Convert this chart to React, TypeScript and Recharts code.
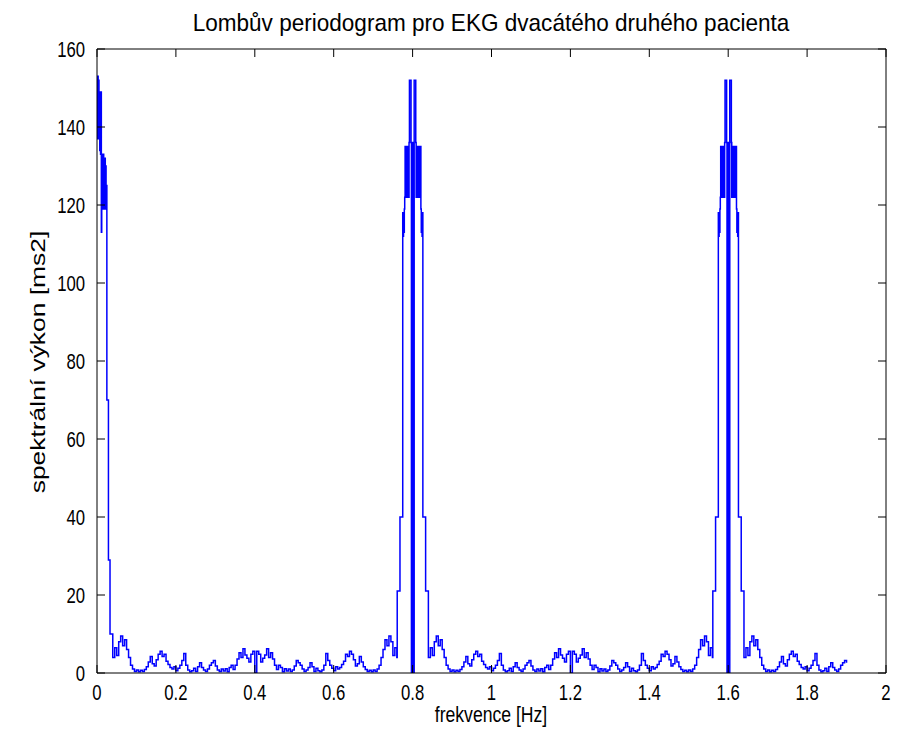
import React from 'react';
import { LineChart, Line, XAxis, YAxis } from 'recharts';

// ---- values ----
const xTicks = [0, 0.2, 0.4, 0.6, 0.8, 1, 1.2, 1.4, 1.6, 1.8, 2];
const yTicks = [0, 20, 40, 60, 80, 100, 120, 140, 160];

// frequency grid step of the low-level part of the periodogram [Hz]
const FREQ_STEP = 0.005;

// right half of the peak at 0 Hz: frequencies [Hz] and power [ms2]
const dcFreq = [0, 0.001, 0.002, 0.003, 0.004, 0.005, 0.006, 0.007, 0.008, 0.009, 0.01, 0.011, 0.012, 0.013, 0.014, 0.015, 0.016, 0.017, 0.018, 0.019, 0.02, 0.021, 0.022, 0.023, 0.024, 0.025, 0.029, 0.033];
const dcPower = [152, 137, 153, 138, 152, 137, 149, 134, 148, 133, 149, 113, 133, 119, 132, 120, 133, 119, 131, 120, 132, 119, 130, 119, 125, 70, 29, 10];

// peaks at 0.8 Hz and 1.6 Hz: frequency offset from the peak centre [Hz] and power
const peakCenters = [0.8, 1.6];
const peakOffset = [-0.039, -0.032, -0.025, -0.024, -0.023, -0.022, -0.021, -0.02, -0.019, -0.018, -0.017, -0.016, -0.015, -0.014, -0.013, -0.012, -0.011, -0.01, -0.009, -0.008, -0.004, -0.003, -0.002, -0.001, 0, 0.001, 0.002, 0.003, 0.004, 0.008, 0.009, 0.01, 0.011, 0.012, 0.013, 0.014, 0.015, 0.016, 0.017, 0.018, 0.019, 0.02, 0.021, 0.022, 0.023, 0.024, 0.025, 0.026, 0.033];
const peakPower = [21, 40, 118, 112, 118, 113, 119, 122, 135, 122, 134, 123, 135, 122, 135, 123, 134, 122, 136, 152, 136, 0, 135, 0, 136, 0, 135, 0, 152, 136, 122, 134, 123, 135, 122, 135, 123, 134, 122, 135, 122, 135, 119, 113, 118, 112, 118, 40, 21];

// low-level band between the peaks (0.04–0.76 Hz and 0.84–1.56 Hz)
const bandStarts = [0.04, 0.84];
const noiseBand = [
  4, 6.5, 4.5, 8, 9.5, 7, 8.5, 6, 4, 2,
  1, 0.4, 0.8, 0.3, 0.7, 0.4, 0.9, 1.6, 2.8, 4.2,
  2.4, 1.8, 3.4, 4.8, 5.6, 4.2, 4.8, 3, 2.2, 1.4,
  1, 1.6, 0.6, 1.2, 2, 3.2, 5, 2, 0.8, 0.3,
  0.6, 1.2, 0.4, 1.6, 2.6, 1.4, 0.8, 0.4, 1, 2,
  2.6, 3.2, 1.8, 0.8, 0.4, 1, 0.5, 1.1, 0.3, 1.4,
  2, 0.9, 2, 3.6, 5.2, 4, 6.2, 4.6, 3.8, 2.8,
  4.8, 5.6, 0,
  5.6, 4.8, 2.8, 3.8, 4.6, 6.2, 4, 5.2, 3.6, 2,
  0.9, 2, 1.4, 0.3, 1.1, 0.5, 1, 0.4, 0.8, 1.8,
  3.2, 2.6, 2, 1, 0.4, 0.8, 1.4, 2.6, 1.6, 0.4,
  1.2, 0.6, 0.3, 0.8, 2, 5, 3.2, 2, 1.2, 0.6,
  1.6, 1, 1.4, 2.2, 3, 4.8, 4.2, 5.6, 4.8, 3.4,
  1.8, 2.4, 4.2, 2.8, 1.6, 0.9, 0.4, 0.7, 0.3, 0.8,
  0.4, 1, 2, 4, 6, 8.5, 7, 9.5, 8, 4.5,
  6.5, 4,
];

// tail after the 1.6 Hz peak (1.64–1.90 Hz)
const tailStart = 1.64;
const noiseTail = [
  4, 6.5, 4.5, 8, 9.5, 7, 8.5, 6, 4, 2,
  1, 0.4, 0.8, 0.3, 0.7, 0.4, 0.9, 1.6, 2.8, 4.2,
  2.4, 1.8, 3.4, 4.8, 5.6, 4.2, 4.8, 3, 2.2, 1.4,
  1, 1.6, 0.6, 1.2, 2, 3.2, 5, 2, 0.8, 0.3,
  0.6, 1.2, 0.4, 1.6, 2.6, 1.4, 0.8, 0.4, 1, 2,
  2.6, 3.2, 2.6,
];

type Pt = { f: number; p: number };
const r4 = (v: number) => Math.round(v * 10000) / 10000;

function buildData(): Pt[] {
  const pts: Pt[] = [];
  dcFreq.forEach((f, i) => pts.push({ f: r4(f), p: dcPower[i] }));
  bandStarts.forEach((s) => noiseBand.forEach((p, i) => pts.push({ f: r4(s + i * FREQ_STEP), p })));
  peakCenters.forEach((c) => peakOffset.forEach((o, i) => pts.push({ f: r4(c + o), p: peakPower[i] })));
  noiseTail.forEach((p, i) => pts.push({ f: r4(tailStart + i * FREQ_STEP), p }));
  pts.sort((a, b) => a.f - b.f);
  return pts;
}
const data = buildData();

const FONT = '"Liberation Sans", Arial, Helvetica, sans-serif';
const TICK_FS = 22;
const SQUEEZE = 0.76;
const NoTick = () => null;

const XTick = (props: any) => {
  const { x, y, payload } = props;
  return (
    <text
      transform={`translate(${x},${y + 15.8}) scale(${SQUEEZE},1)`}
      textAnchor="middle"
      fontSize={TICK_FS}
      fontFamily={FONT}
      fill="#000"
    >
      {String(payload.value)}
    </text>
  );
};

const YTick = (props: any) => {
  const { x, y, payload } = props;
  return (
    <text
      transform={`translate(${x},${y + 7.9}) scale(${SQUEEZE},1)`}
      textAnchor="end"
      fontSize={TICK_FS}
      fontFamily={FONT}
      fill="#000"
    >
      {String(payload.value)}
    </text>
  );
};

export default function App() {
  return (
    <div style={{ position: 'absolute', left: 0, top: 0, width: 901, height: 742, background: '#fff' }}>
      <LineChart
        width={901}
        height={742}
        data={data}
        margin={{ top: 48, right: 14, bottom: 29, left: 37 }}
        style={{ fontFamily: FONT }}
      >
        <XAxis
          xAxisId="b"
          dataKey="f"
          type="number"
          domain={[0, 2]}
          ticks={xTicks}
          interval={0}
          orientation="bottom"
          height={40}
          tickSize={-8}
          tickMargin={19}
          stroke="#000"
          tick={XTick}
          allowDataOverflow
        />
        <XAxis
          xAxisId="t"
          dataKey="f"
          type="number"
          domain={[0, 2]}
          ticks={xTicks}
          interval={0}
          orientation="top"
          height={1}
          tickSize={-8}
          stroke="#000"
          tick={NoTick}
          allowDataOverflow
        />
        <YAxis
          yAxisId="l"
          type="number"
          domain={[0, 160]}
          ticks={yTicks}
          interval={0}
          width={60}
          tickSize={-8}
          tickMargin={20}
          stroke="#000"
          tick={YTick}
          allowDataOverflow
        />
        <YAxis
          yAxisId="r"
          orientation="right"
          type="number"
          domain={[0, 160]}
          ticks={yTicks}
          interval={0}
          width={1}
          tickSize={-8}
          stroke="#000"
          tick={NoTick}
          allowDataOverflow
        />
        <Line
          xAxisId="b"
          yAxisId="l"
          type="stepAfter"
          dataKey="p"
          stroke="#0000ff"
          strokeWidth={1.5}
          dot={false}
          activeDot={false}
          isAnimationActive={false}
        />
      </LineChart>
      <svg
        width={901}
        height={742}
        style={{ position: 'absolute', left: 0, top: 0, pointerEvents: 'none' }}
      >
        <text
          transform="translate(491,31) scale(0.94,1)"
          textAnchor="middle"
          fontSize={24}
          fontFamily={FONT}
          fill="#000"
        >
          Lombův periodogram pro EKG dvacátého druhého pacienta
        </text>
        <text
          transform="translate(491,722) scale(0.8,1)"
          textAnchor="middle"
          fontSize={TICK_FS}
          fontFamily={FONT}
          fill="#000"
        >
          frekvence [Hz]
        </text>
        <text
          transform="translate(45,362) rotate(-90) scale(1.1,0.85)"
          textAnchor="middle"
          fontSize={24}
          fontFamily={FONT}
          fill="#000"
        >
          spektrální výkon [ms2]
        </text>
      </svg>
    </div>
  );
}
